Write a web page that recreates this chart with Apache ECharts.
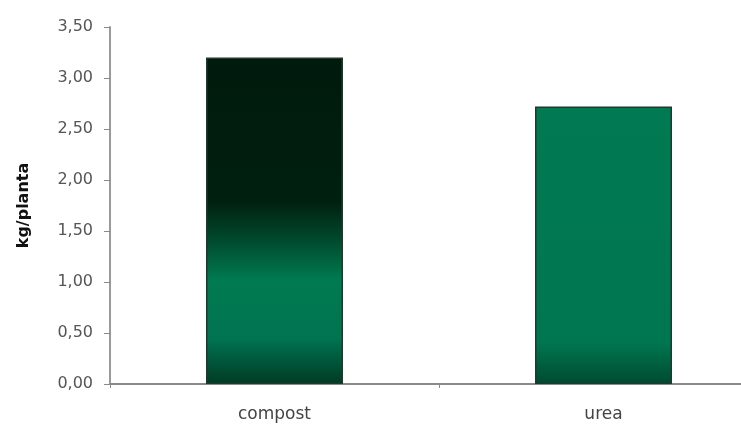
<!DOCTYPE html>
<html>
<head>
<meta charset="utf-8">
<script src="https://cdn.jsdelivr.net/npm/echarts@6/dist/echarts.min.js"></script>
<style>html,body{margin:0;padding:0;background:#fff;overflow:hidden;}#c{width:741px;height:425px;}</style>
</head>
<body>
<div id="c"></div>
<script>
var categories = ['compost', 'urea'];
var values = [3.20, 2.72];
var yTicks = [0, 0.5, 1, 1.5, 2, 2.5, 3, 3.5];
var yName = 'kg/planta';

var compostGrad = new echarts.graphic.LinearGradient(0, 0, 0, 1, [
  {offset: 0, color: '#001a0c'},
  {offset: 0.44, color: '#00200f'},
  {offset: 0.56, color: '#004a2e'},
  {offset: 0.68, color: '#007a50'},
  {offset: 0.86, color: '#007450'},
  {offset: 1, color: '#003a24'}
]);
var ureaGrad = new echarts.graphic.LinearGradient(0, 0, 0, 1, [
  {offset: 0, color: '#007a52'},
  {offset: 0.85, color: '#007650'},
  {offset: 1, color: '#004a30'}
]);
var colors = [compostGrad, ureaGrad];
var font = 'DejaVu Sans, Verdana, sans-serif';

var chart = echarts.init(document.getElementById('c'));
chart.setOption({
  animation: false,
  grid: {left: 110, width: 658, top: 27, height: 357, containLabel: false, outerBoundsMode: 'none'},
  xAxis: {
    type: 'category',
    data: categories,
    axisLine: {lineStyle: {color: '#8a8a8a', width: 2}},
    axisTick: {show: true, length: 4, lineStyle: {color: '#8a8a8a'}},
    axisLabel: {color: '#444', fontSize: 17, fontFamily: font, margin: 22}
  },
  yAxis: {
    type: 'value',
    min: yTicks[0], max: yTicks[yTicks.length - 1], interval: 0.5,
    name: yName,
    nameLocation: 'middle',
    nameGap: 78,
    nameRotate: 90,
    nameTextStyle: {color: '#111', fontSize: 16, fontWeight: 'bold', fontFamily: font},
    axisLine: {show: true, lineStyle: {color: '#9a9a9a', width: 2}},
    axisTick: {show: true, length: 6, lineStyle: {color: '#8a8a8a'}},
    splitLine: {show: false},
    axisLabel: {
      color: '#555', fontSize: 16, margin: 17,
      fontFamily: font,
      formatter: function (v) { return v.toFixed(2).replace('.', ','); }
    }
  },
  series: [{
    type: 'bar',
    barWidth: 137,
    data: values.map(function (v, i) {
      return {value: v, itemStyle: {color: colors[i], borderColor: '#1d3a2c', borderWidth: 1.5}};
    })
  }]
});
</script>
</body>
</html>
